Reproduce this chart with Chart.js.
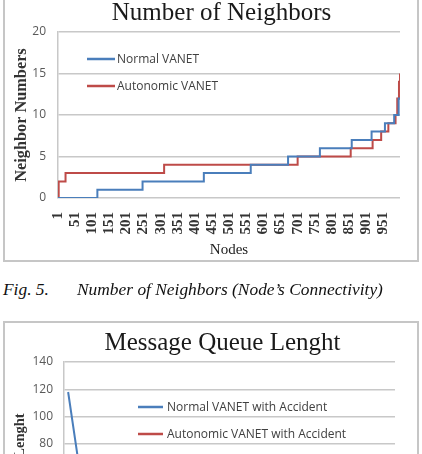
<!DOCTYPE html>
<html>
<head>
<meta charset="utf-8">
<script src="https://cdn.jsdelivr.net/npm/chart.js@4.4.0/dist/chart.umd.min.js"></script>
<style>
html,body{margin:0;padding:0;width:422px;height:454px;overflow:hidden;background:#fff;}
.frame{position:absolute;border:2px solid #c6c6c6;box-sizing:border-box;pointer-events:none;}
#f1{left:3px;top:-20px;width:416px;height:282px;}
#f2{left:3px;top:321px;width:416px;height:300px;}
#w1{position:absolute;left:0;top:-2px;width:443px;height:264px;}
#w2{position:absolute;left:0;top:322px;width:445px;height:281px;}
.cap{position:absolute;top:279px;font:italic 17.4px/20px 'Liberation Serif',serif;color:#111;white-space:nowrap;}
</style>
</head>
<body>
<div id="w1"><canvas id="c1"></canvas></div>
<div id="w2"><canvas id="c2"></canvas></div>
<div class="frame" id="f1"></div>
<div class="frame" id="f2"></div>
<div class="cap" style="left:3px">Fig. 5.</div>
<div class="cap" style="left:77px">Number of Neighbors (Node’s Connectivity)</div>
<script>
// ---- Chart 1: Number of Neighbors ----
const nodeTicks = [1,51,101,151,201,251,301,351,401,451,501,551,601,651,701,751,801,851,901,951];
const normalNodes     = [1, 116, 248, 427, 564, 673, 766, 859, 917, 956, 983, 996, 1000];
const normalNeighbors = [0, 1,   2,   3,   4,   5,   6,   7,   8,   9,   10,  12,  12];
const autoNodes       = [1, 3, 23, 311, 701, 856, 920, 945, 966, 987, 992, 997, 1000];
const autoNeighbors   = [0, 2, 3,  4,   5,   6,   7,   8,   9,   10,  12,  14,  15];

// ---- Chart 2: Message Queue Lenght ----
const queueTime        = [1, 6, 10, 20, 30, 40, 50, 60, 70, 80];
const normalQueue      = [118, 15, 9, 7, 6, 6, 5, 5, 5, 5];
const autonomicQueue   = [4, 3, 3, 2, 2, 2, 2, 2, 2, 2];

const BLUE = '#4a7ebb', RED = '#be4b48';

const insideLegend = {
  id: 'insideLegend',
  afterDatasetsDraw(chart, args, o) {
    const {ctx, chartArea} = chart;
    ctx.save();
    ctx.font = o.font;
    ctx.textBaseline = 'middle';
    ctx.textAlign = 'left';
    chart.data.datasets.forEach((ds, i) => {
      const y = chartArea.top + o.top + i * o.spacing;
      const x = chartArea.left + o.left;
      ctx.strokeStyle = ds.borderColor;
      ctx.lineWidth = 2.5;
      ctx.beginPath(); ctx.moveTo(x, y); ctx.lineTo(x + o.lineLen, y); ctx.stroke();
      ctx.fillStyle = o.color;
      ctx.fillText(ds.label, x + o.lineLen + o.gap, y + 0.5);
    });
    ctx.restore();
  }
};

const titleShift = {
  id: 'titleShift',
  afterLayout(chart, args, o) {
    const t = chart.titleBlock;
    if (t) { t.left += o.dx; t.right += o.dx; }
  }
};

const pts = (xs, ys) => xs.map((x, i) => ({x, y: ys[i]}));

new Chart(document.getElementById('c1'), {
  type: 'line',
  data: {
    datasets: [
      {label: 'Normal VANET', data: pts(normalNodes, normalNeighbors), borderColor: BLUE, borderWidth: 2, stepped: 'before', pointRadius: 0, fill: false},
      {label: 'Autonomic VANET', data: pts(autoNodes, autoNeighbors), borderColor: RED, borderWidth: 2, stepped: 'before', pointRadius: 0, fill: false}
    ]
  },
  plugins: [insideLegend, titleShift],
  options: {
    responsive: true, maintainAspectRatio: false, animation: false,
    layout: {padding: {left: 0, right: 43, top: 0, bottom: 0}},
    plugins: {
      legend: {display: false},
      tooltip: {enabled: false},
      title: {display: true, text: 'Number of Neighbors', color: '#1a1a1a',
        font: {family: 'Liberation Serif', size: 25, weight: 'normal'}, padding: {top: 0, bottom: 4}},
      titleShift: {dx: 21.5},
      insideLegend: {font: "12px 'Open Sans'", color: '#404040', left: 29, top: 27, spacing: 27, lineLen: 28, gap: 2}
    },
    scales: {
      x: {
        type: 'linear', min: 1, max: 1000,
        afterBuildTicks: s => { s.ticks = nodeTicks.map(v => ({value: v})); },
        ticks: {autoSkip: false, minRotation: 90, maxRotation: 90, padding: 6,
          font: {family: 'Liberation Serif', size: 15, weight: 'bold'}, color: '#333'},
        grid: {display: false}, border: {display: false},
        title: {display: true, text: 'Nodes', color: '#222',
          font: {family: 'Liberation Serif', size: 15}, padding: {top: 0, bottom: 3}},
        afterFit: s => { s.height = 64; }
      },
      y: {
        min: 0, max: 20,
        ticks: {stepSize: 5, padding: 12, font: {family: 'Open Sans', size: 12}, color: '#595959'},
        grid: {color: '#c8c8c8', lineWidth: 1.5, drawTicks: false},
        border: {display: true, color: '#c8c8c8', width: 1.5},
        title: {display: true, text: 'Neighbor Numbers', color: '#333',
          font: {family: 'Liberation Serif', size: 16.3, weight: 'bold'}, padding: {top: 12, bottom: 0}},
        afterFit: s => { s.width = 58; }
      }
    }
  }
});

new Chart(document.getElementById('c2'), {
  type: 'line',
  data: {
    datasets: [
      {label: 'Normal VANET with Accident', data: pts(queueTime, normalQueue), borderColor: BLUE, borderWidth: 2, pointRadius: 0, fill: false, tension: 0},
      {label: 'Autonomic VANET with Accident', data: pts(queueTime, autonomicQueue), borderColor: RED, borderWidth: 2, pointRadius: 0, fill: false, tension: 0}
    ]
  },
  plugins: [insideLegend, titleShift],
  options: {
    responsive: true, maintainAspectRatio: false, animation: false,
    layout: {padding: {left: 0, right: 50, top: 0, bottom: 0}},
    plugins: {
      legend: {display: false},
      tooltip: {enabled: false},
      title: {display: true, text: 'Message Queue Lenght', color: '#1a1a1a',
        font: {family: 'Liberation Serif', size: 25, weight: 'normal'}, padding: {top: 6, bottom: 4}},
      titleShift: {dx: 25},
      insideLegend: {font: "12px 'Open Sans'", color: '#404040', left: 74, top: 45, spacing: 27, lineLen: 25, gap: 4}
    },
    scales: {
      x: {
        type: 'linear', min: 0, max: 80,
        ticks: {font: {family: 'Liberation Serif', size: 14, weight: 'bold'}, color: '#333'},
        grid: {display: false}, border: {display: false},
        afterFit: s => { s.height = 50; }
      },
      y: {
        min: 0, max: 140,
        ticks: {stepSize: 20, padding: 11, font: {family: 'Open Sans', size: 12}, color: '#595959'},
        grid: {color: '#c8c8c8', lineWidth: 1.5, drawTicks: false},
        border: {display: true, color: '#c8c8c8', width: 1.5},
        title: {display: true, text: 'Queue Lenght', color: '#333',
          font: {family: 'Liberation Serif', size: 14.5, weight: 'bold'}, padding: {top: 12, bottom: 0}},
        afterFit: s => { s.width = 64; }
      }
    }
  }
});
</script>
</body>
</html>
